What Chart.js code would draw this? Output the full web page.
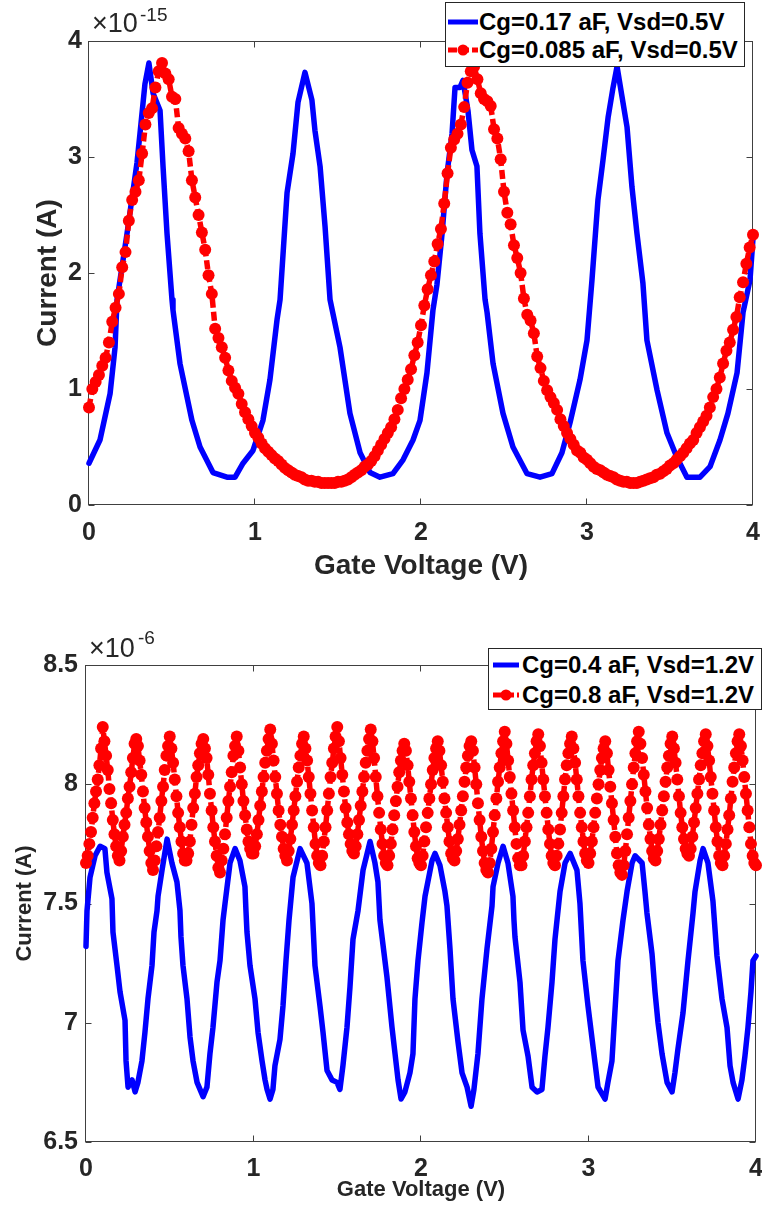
<!DOCTYPE html>
<html>
<head>
<meta charset="utf-8">
<script src="https://cdn.jsdelivr.net/npm/chart.js@4.4.1/dist/chart.umd.min.js"></script>
<style>
html,body{margin:0;padding:0;background:#fff;width:762px;height:1217px;overflow:hidden;}
#wrap{position:relative;width:762px;height:1217px;}
canvas{position:absolute;left:0;}
#c1{top:0;}
#c2{top:600px;}
.mult{position:absolute;font-family:'Liberation Sans',Arial,Helvetica,sans-serif;color:#262626;white-space:nowrap;line-height:1;}
.legend{position:absolute;background:#fff;border:1px solid #262626;box-sizing:border-box;font-family:'Liberation Sans',Arial,Helvetica,sans-serif;font-weight:bold;color:#000;}
.row{position:absolute;display:flex;align-items:center;white-space:nowrap;line-height:1;}
</style>
</head>
<body>
<div id="wrap">
<canvas id="c1" width="762" height="600"></canvas>
<canvas id="c2" width="762" height="617"></canvas>
<span class="mult" style="left:92px;top:10px;font-size:27px">×10</span>
<span class="mult" style="left:140px;top:5px;font-size:19px">-15</span>
<span class="mult" style="left:89px;top:635px;font-size:27px">×10</span>
<span class="mult" style="left:138px;top:628px;font-size:19px">-6</span>
<div id="leg1" class="legend" style="left:445px;top:2px;width:300px;height:65px;"></div>
<div id="leg2" class="legend" style="left:488px;top:648px;width:274px;height:62px;"></div>
</div>
<script>
// ---------- shared ticks / labels ----------
const xTicks = [0, 1, 2, 3, 4];
const yTicksTop = [0, 1, 2, 3, 4];
const yTicksBot = [6.5, 7, 7.5, 8, 8.5];
const labelsTop = ['Cg=0.17 aF, Vsd=0.5V', 'Cg=0.085 aF, Vsd=0.5V'];
const labelsBot = ['Cg=0.4 aF, Vsd=1.2V', 'Cg=0.8 aF, Vsd=1.2V'];

// ---------- top chart: Cg=0.17 aF (x1e-15 A) ----------
const blueTopV = [0,0.066,0.127,0.157,0.169,0.229,0.289,0.307,0.337,0.361,
0.386,0.428,0.446,0.47,0.5,0.506,0.548,0.62,0.669,0.747,
0.831,0.88,0.928,0.988,1.048,1.09,1.133,1.151,1.193,1.229,
1.259,1.301,1.343,1.361,1.392,1.422,1.452,1.512,1.572,1.633,
1.693,1.753,1.831,1.892,1.952,1.994,2.036,2.072,2.096,2.127,
2.157,2.187,2.205,2.235,2.253,2.283,2.307,2.337,2.355,2.386,
2.398,2.434,2.494,2.554,2.639,2.717,2.789,2.849,2.898,2.958,
3.0,3.03,3.066,3.096,3.127,3.157,3.181,3.211,3.241,3.271,
3.301,3.337,3.361,3.422,3.482,3.542,3.602,3.681,3.741,3.801,
3.849,3.904,3.94,3.982,4.0];
const blueTopI = [0.36,0.56,0.96,1.36,1.77,2.34,2.95,3.2,3.63,3.81,
3.55,3.4,2.92,2.34,1.77,1.68,1.22,0.73,0.5,0.28,
0.24,0.24,0.36,0.47,0.73,1.08,1.6,1.77,2.69,3.03,
3.47,3.73,3.49,3.23,2.92,2.4,1.77,1.36,0.79,0.45,
0.28,0.24,0.27,0.39,0.56,0.73,1.14,1.68,1.9,2.34,
2.86,3.2,3.6,3.6,3.66,3.4,3.06,2.92,2.34,1.77,
1.66,1.22,0.79,0.5,0.27,0.24,0.27,0.45,0.71,1.08,
1.42,1.94,2.63,2.97,3.34,3.6,3.78,3.52,3.26,2.74,
2.34,1.91,1.42,0.99,0.62,0.41,0.24,0.24,0.33,0.56,
0.79,1.14,1.66,1.94,2.3];

// ---------- top chart: Cg=0.085 aF, gate sweep step 0.02 V ----------
const redTopStep = 0.02;
const redTopI = [
0.84,1.00,1.06,1.12,1.20,1.27,1.40,1.58,1.70,1.82,
2.05,2.18,2.45,2.63,2.70,2.80,3.03,3.28,3.38,3.42,
3.60,3.74,3.81,3.72,3.67,3.52,3.50,3.25,3.20,3.16,
3.05,2.80,2.65,2.50,2.35,2.20,1.98,1.82,1.52,1.44,
1.36,1.27,1.16,1.07,1.01,0.96,0.87,0.80,0.74,0.68,
0.62,0.58,0.53,0.49,0.46,0.43,0.40,0.38,0.35,0.32,
0.30,0.28,0.26,0.25,0.24,0.22,0.21,0.21,0.20,0.20,
0.19,0.19,0.19,0.19,0.19,0.20,0.20,0.21,0.22,0.24,
0.26,0.28,0.30,0.33,0.35,0.38,0.42,0.47,0.52,0.57,
0.62,0.67,0.74,0.82,0.92,1.00,1.08,1.17,1.29,1.40,
1.55,1.72,1.86,1.98,2.10,2.25,2.38,2.60,2.86,3.08,
3.15,3.20,3.28,3.43,3.64,3.74,3.78,3.67,3.55,3.50,
3.48,3.44,3.24,3.16,2.98,2.70,2.52,2.42,2.24,2.13,
2.00,1.78,1.64,1.59,1.48,1.28,1.18,1.07,0.99,0.93,
0.88,0.82,0.74,0.68,0.62,0.57,0.52,0.47,0.45,0.41,
0.39,0.36,0.33,0.31,0.30,0.28,0.26,0.25,0.24,0.22,
0.21,0.20,0.20,0.19,0.19,0.19,0.20,0.21,0.22,0.23,
0.24,0.26,0.27,0.29,0.31,0.34,0.36,0.39,0.42,0.45,
0.49,0.53,0.56,0.62,0.67,0.72,0.77,0.84,0.93,1.00,
1.10,1.22,1.33,1.40,1.51,1.62,1.79,1.92,2.08,2.22,
2.33];

// ---------- bottom chart: Cg=0.4 aF (x1e-6 A) ----------
const blueBotV = [0,0.006,0.024,0.054,0.084,0.113,0.125,0.155,0.161,0.185,
0.203,0.233,0.239,0.251,0.275,0.293,0.310,0.334,0.352,0.370,
0.394,0.406,0.424,0.430,0.454,0.484,0.513,0.543,0.561,0.567,
0.579,0.603,0.621,0.639,0.663,0.699,0.722,0.740,0.758,0.782,
0.800,0.818,0.830,0.860,0.890,0.919,0.949,0.955,0.961,0.979,
1.009,1.027,1.051,1.069,1.081,1.099,1.116,1.128,1.158,1.176,
1.194,1.212,1.236,1.278,1.319,1.349,1.367,1.397,1.415,1.439,
1.469,1.499,1.516,1.534,1.558,1.576,1.594,1.624,1.654,1.696,
1.725,1.743,1.755,1.797,1.827,1.845,1.863,1.881,1.904,1.934,
1.952,1.964,1.982,2.006,2.024,2.066,2.084,2.113,2.143,2.155,
2.173,2.191,2.221,2.245,2.275,2.299,2.316,2.340,2.364,2.394,
2.424,2.430,2.460,2.490,2.519,2.549,2.555,2.561,2.591,2.609,
2.639,2.663,2.693,2.722,2.740,2.758,2.782,2.800,2.830,2.860,
2.890,2.931,2.949,2.967,2.997,3.027,3.057,3.099,3.116,3.140,
3.158,3.176,3.206,3.230,3.260,3.278,3.320,3.337,3.349,3.379,
3.397,3.415,3.439,3.469,3.499,3.516,3.534,3.564,3.594,3.624,
3.636,3.666,3.684,3.713,3.743,3.767,3.797,3.827,3.845,3.863,
3.893,3.916,3.934,3.952,3.970,3.982,4.000];
const blueBotI = [7.32,7.47,7.61,7.70,7.74,7.73,7.63,7.52,7.38,7.24,
7.13,7.01,6.84,6.73,6.76,6.71,6.75,6.84,6.96,7.10,
7.24,7.38,7.47,7.53,7.64,7.77,7.67,7.59,7.47,7.36,
7.24,7.10,6.94,6.84,6.75,6.69,6.73,6.87,6.98,7.17,
7.26,7.43,7.50,7.67,7.73,7.68,7.57,7.47,7.38,7.24,
7.10,6.96,6.84,6.76,6.72,6.68,6.72,6.82,6.93,7.07,
7.26,7.43,7.61,7.73,7.67,7.50,7.24,7.07,6.96,6.80,
6.76,6.75,6.72,6.82,6.98,7.15,7.35,7.47,7.64,7.76,
7.67,7.59,7.43,7.19,6.98,6.87,6.76,6.68,6.71,6.79,
6.87,7.10,7.26,7.42,7.53,7.68,7.71,7.66,7.55,7.49,
7.31,7.10,6.92,6.79,6.73,6.65,6.72,6.87,7.10,7.31,
7.49,7.57,7.67,7.74,7.67,7.53,7.43,7.36,7.17,6.97,
6.86,6.73,6.71,6.72,6.86,6.98,7.17,7.35,7.55,7.67,
7.71,7.64,7.50,7.26,7.07,6.90,6.73,6.68,6.75,6.84,
7.05,7.26,7.43,7.55,7.67,7.70,7.67,7.55,7.46,7.29,
7.13,7.00,6.87,6.75,6.71,6.79,6.89,7.04,7.26,7.46,
7.55,7.68,7.73,7.67,7.51,7.28,7.10,6.98,6.82,6.75,
6.68,6.76,6.86,6.98,7.13,7.26,7.28];

// ---------- bottom chart: Cg=0.8 aF, gate sweep step 0.01 V ----------
const redBotStep = 0.01;
const redBotI = [
7.67,7.70,7.75,7.80,7.86,7.92,7.97,8.02,8.08,8.15,8.24,8.18,8.12,8.06,7.98,7.92,7.85,7.79,7.74,7.70,
7.68,7.72,7.78,7.83,7.88,7.94,7.99,8.05,8.11,8.17,8.19,8.16,8.10,8.04,7.97,7.90,7.84,7.78,7.72,7.67,
7.64,7.68,7.74,7.80,7.86,7.93,7.99,8.06,8.12,8.16,8.20,8.15,8.09,8.02,7.95,7.88,7.82,7.76,7.71,7.68,
7.68,7.71,7.76,7.83,7.90,7.96,8.03,8.08,8.13,8.17,8.19,8.15,8.11,8.04,7.96,7.89,7.82,7.76,7.70,7.65,
7.63,7.68,7.73,7.79,7.86,7.93,7.99,8.05,8.12,8.16,8.20,8.14,8.07,8.00,7.93,7.87,7.81,7.76,7.73,7.71,
7.71,7.74,7.79,7.85,7.91,7.97,8.03,8.09,8.14,8.19,8.23,8.17,8.10,8.03,7.96,7.89,7.83,7.78,7.73,7.70,
7.68,7.72,7.77,7.83,7.89,7.95,8.01,8.07,8.12,8.17,8.20,8.15,8.10,8.03,7.96,7.89,7.82,7.75,7.70,7.67,
7.66,7.70,7.76,7.82,7.89,7.96,8.03,8.09,8.15,8.20,8.24,8.18,8.11,8.04,7.97,7.90,7.84,7.79,7.75,7.72,
7.71,7.74,7.79,7.85,7.91,7.97,8.03,8.09,8.14,8.19,8.23,8.18,8.11,8.03,7.95,7.88,7.81,7.75,7.70,7.67,
7.66,7.70,7.75,7.81,7.87,7.93,7.99,8.05,8.10,8.14,8.17,8.14,8.08,8.01,7.94,7.87,7.80,7.74,7.69,7.67,
7.66,7.70,7.76,7.82,7.88,7.94,8.00,8.06,8.11,8.15,8.18,8.14,8.08,8.01,7.94,7.88,7.82,7.76,7.71,7.69,
7.68,7.72,7.77,7.83,7.89,7.95,8.01,8.07,8.12,8.16,8.18,8.14,8.07,8.00,7.92,7.85,7.78,7.72,7.67,7.64,
7.63,7.67,7.73,7.80,7.87,7.94,8.01,8.07,8.13,8.18,8.22,8.17,8.10,8.03,7.96,7.89,7.82,7.75,7.69,7.66,
7.66,7.70,7.76,7.82,7.88,7.95,8.02,8.08,8.13,8.18,8.21,8.16,8.09,8.02,7.95,7.88,7.81,7.75,7.70,7.67,
7.66,7.70,7.75,7.81,7.88,7.95,8.02,8.08,8.13,8.17,8.20,8.15,8.09,8.02,7.95,7.88,7.82,7.76,7.71,7.68,
7.67,7.71,7.76,7.82,7.88,7.94,8.00,8.06,8.11,8.15,8.18,8.13,8.06,7.99,7.92,7.85,7.78,7.71,7.66,7.63,
7.62,7.66,7.72,7.79,7.86,7.93,8.00,8.07,8.13,8.18,8.22,8.17,8.11,8.04,7.97,7.90,7.83,7.77,7.72,7.69,
7.68,7.72,7.77,7.83,7.89,7.95,8.01,8.07,8.12,8.17,8.20,8.15,8.09,8.02,7.95,7.88,7.82,7.77,7.73,7.71,
7.70,7.73,7.78,7.84,7.90,7.96,8.02,8.08,8.13,8.18,8.21,8.16,8.10,8.03,7.96,7.89,7.82,7.76,7.70,7.67,
7.66,7.70,7.75,7.81,7.87,7.94,8.01,8.07,8.13,8.18,8.21,8.16,8.10,8.03,7.96,7.89,7.82,7.75,7.70,7.67,
7.66];

// ---------- build point tables ----------
const pairs = (xs, ys) => ys.map((y, i) => ({x: xs[i], y}));
const sweep = (ys, step) => ys.map((y, i) => ({x: +(i * step).toFixed(3), y}));

Chart.defaults.font.family = "'Liberation Sans', Arial, Helvetica, sans-serif";
Chart.defaults.color = '#262626';

const boxPlugin = {
  id: 'boxTicks',
  beforeDatasetsDraw(chart) {
    const {ctx, chartArea: a, scales: {x, y}} = chart;
    const yt = chart.options.plugins.boxTicks.yTicks;
    ctx.save();
    ctx.strokeStyle = '#404040';
    ctx.lineWidth = 1;
    const L = Math.round(a.left) - 0.5, R = Math.round(a.right) - 0.5;
    const T = Math.round(a.top) + 0.5, B = Math.round(a.bottom) - 0.5;
    ctx.strokeRect(L, T, R - L, B - T);
    ctx.beginPath();
    const tl = 6;
    xTicks.forEach(v => {
      const p = Math.round(x.getPixelForValue(v)) - 0.5;
      ctx.moveTo(p, B); ctx.lineTo(p, B - tl);
      ctx.moveTo(p, T); ctx.lineTo(p, T + tl);
    });
    yt.forEach(v => {
      const p = Math.round(y.getPixelForValue(v)) + 0.5;
      ctx.moveTo(L, p); ctx.lineTo(L + tl, p);
      ctx.moveTo(R, p); ctx.lineTo(R - tl, p);
    });
    ctx.stroke();
    ctx.restore();
  }
};

function makeChart(canvas, c) {
  return new Chart(canvas, {
    type: 'line',
    data: {datasets: c.datasets},
    options: {
      responsive: false, animation: false, devicePixelRatio: 1,
      layout: {padding: c.padding},
      plugins: {legend: {display: false}, tooltip: {enabled: false}, boxTicks: {yTicks: c.yTicks}},
      scales: {
        x: {
          type: 'linear', min: 0, max: 4,
          afterBuildTicks: s => { s.ticks = xTicks.map(v => ({value: v})); },
          afterFit: s => { s.height = c.xH; s.paddingLeft = 0; s.paddingRight = 0; },
          grid: {display: false, drawTicks: false}, border: {display: false},
          ticks: {autoSkip: false, maxRotation: 0, padding: c.xTickPad, color: '#262626',
                  font: {size: c.tickSize, weight: 'bold'}, callback: v => String(v)},
          title: {display: true, text: 'Gate Voltage (V)', color: '#262626',
                  font: {size: c.titleSize, weight: 'bold'}, padding: {top: 0, bottom: c.xTitlePad}}
        },
        y: {
          type: 'linear', min: c.yMin, max: c.yMax,
          afterBuildTicks: s => { s.ticks = c.yTicks.map(v => ({value: v})); },
          afterFit: s => { s.width = c.yW; s.paddingTop = 0; s.paddingBottom = 0; },
          grid: {display: false, drawTicks: false}, border: {display: false},
          ticks: {autoSkip: false, padding: c.yTickPad, color: '#262626',
                  font: {size: c.tickSize, weight: 'bold'}, callback: v => String(v)},
          title: {display: true, text: 'Current (A)', color: '#262626',
                  font: {size: c.yTitleSize, weight: 'bold'}, padding: {top: c.yTitlePad, bottom: 0}}
        }
      }
    },
    plugins: [boxPlugin]
  });
}

const blueStyle = {borderColor: '#0000ff', backgroundColor: '#0000ff', borderWidth: 5.5,
  borderJoinStyle: 'round', borderCapStyle: 'round',
  pointRadius: 0, tension: 0, fill: false, clip: 5, order: 1};
const redStyle = {borderColor: '#ff0000', backgroundColor: '#ff0000', borderWidth: 5.5,
  borderJoinStyle: 'round', borderDash: [9, 4], pointRadius: 6, pointBorderWidth: 0,
  pointBackgroundColor: '#ff0000', tension: 0, fill: false, clip: 7, order: 0};

makeChart(document.getElementById('c1'), {
  datasets: [
    Object.assign({label: labelsTop[0], data: pairs(blueTopV, blueTopI)}, blueStyle),
    Object.assign({label: labelsTop[1], data: sweep(redTopI, redTopStep)}, redStyle)
  ],
  padding: {left: 0, right: 9, top: 41, bottom: 0},
  xH: 95, yW: 89, yMin: 0, yMax: 4, yTicks: yTicksTop,
  tickSize: 25, titleSize: 28, yTitleSize: 28,
  xTickPad: 13, yTickPad: 7, xTitlePad: 17, yTitlePad: 31
});

makeChart(document.getElementById('c2'), {
  datasets: [
    Object.assign({label: labelsBot[0], data: pairs(blueBotV, blueBotI)}, blueStyle),
    Object.assign({label: labelsBot[1], data: sweep(redBotI, redBotStep)}, redStyle)
  ],
  padding: {left: 0, right: 6, top: 65, bottom: 0},
  xH: 75, yW: 86, yMin: 6.5, yMax: 8.5, yTicks: yTicksBot,
  tickSize: 25, titleSize: 22, yTitleSize: 22,
  xTickPad: 12, yTickPad: 8, xTitlePad: 14, yTitlePad: 12
});

// ---------- HTML legends ----------
function buildLegend(el, labels, o) {
  const items = [{color: '#0000ff', marker: false}, {color: '#ff0000', marker: true}];
  labels.forEach((lab, i) => {
    const it = items[i];
    const row = document.createElement('div');
    row.className = 'row';
    row.style.left = o.sampleLeft + 'px';
    row.style.top = (o.rowCenters[i] - o.rowH / 2) + 'px';
    row.style.height = o.rowH + 'px';
    const h = o.rowH / 2;
    const svg = '<svg width="' + o.sampleW + '" height="' + o.rowH + '" style="display:block;flex:none">' +
      '<line x1="0" y1="' + h + '" x2="' + o.sampleW + '" y2="' + h + '" stroke="' + it.color +
      '" stroke-width="5"' + (it.marker ? ' stroke-dasharray="9 3"' : '') + '/>' +
      (it.marker ? '<circle cx="' + (o.sampleW / 2) + '" cy="' + h + '" r="5.5" fill="' + it.color + '"/>' : '') +
      '</svg>';
    const span = document.createElement('span');
    span.textContent = lab;
    span.style.fontSize = o.fontSize + 'px';
    span.style.marginLeft = o.gap + 'px';
    row.innerHTML = svg;
    row.appendChild(span);
    el.appendChild(row);
  });
}
buildLegend(document.getElementById('leg1'), labelsTop,
  {sampleLeft: 2, sampleW: 30, rowH: 26, rowCenters: [19, 47], gap: 1, fontSize: 24});
buildLegend(document.getElementById('leg2'), labelsBot,
  {sampleLeft: 4, sampleW: 26, rowH: 26, rowCenters: [16, 46], gap: 3, fontSize: 24});
</script>
</body>
</html>
